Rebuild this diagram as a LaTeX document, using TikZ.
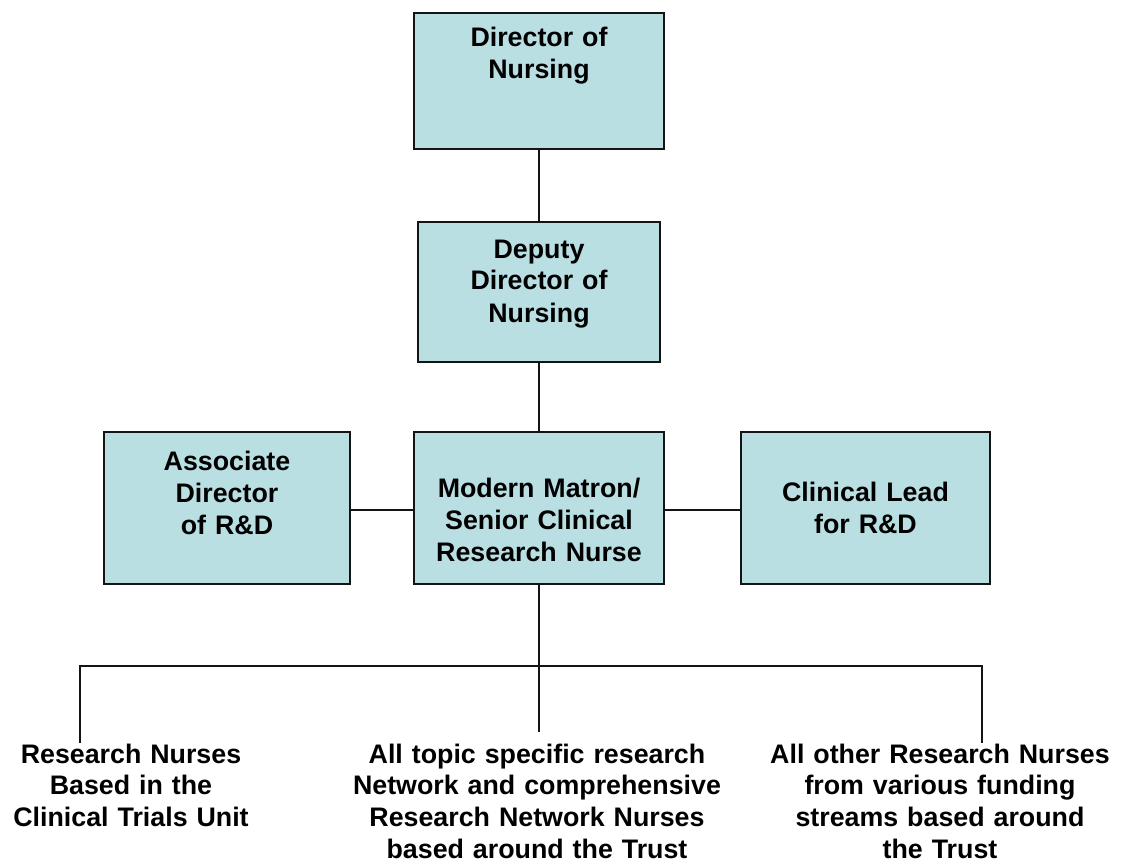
\documentclass[tikz,border=0pt]{standalone}
\usepackage{fontspec}
\setmainfont{Liberation Sans}
\definecolor{boxblue}{RGB}{185,223,227}
\definecolor{edge}{RGB}{20,20,20}
\begin{document}
\begin{tikzpicture}[x=1pt,y=-1pt,
  orgbox/.style={draw=edge,line width=2pt,fill=boxblue,inner sep=0pt,align=center,
    font=\fontsize{26.8}{32}\selectfont\bfseries},
  bottomtext/.style={inner sep=0pt,align=center,text width=380pt,anchor=base,
    font=\fontsize{26.8}{31.7}\selectfont\bfseries},
  conn/.style={draw=edge,line width=1.5pt},
  bar/.style={draw=edge,line width=2.2pt,line cap=rect}]
\useasboundingbox (0,0) rectangle (1122,864);

\node[orgbox,anchor=north west,text width=250pt,text height=34pt,text depth=102pt] (dir) at (413,12) {Director of\\Nursing};
\node[orgbox,anchor=north west,text width=242pt,text height=36pt,text depth=104pt] (dep) at (417,221) {Deputy\\Director of\\Nursing};
\node[orgbox,anchor=north west,text width=246pt,text height=38pt,text depth=114pt] (assoc) at (103,431) {Associate\\Director\\of R\&D};
\node[orgbox,anchor=north west,text width=250pt,text height=65pt,text depth=87pt] (matron) at (413,431) {Modern Matron/\\Senior Clinical\\Research Nurse};
\node[orgbox,anchor=north west,text width=249pt,text height=69pt,text depth=83pt] (clin) at (740,431) {Clinical Lead\\for R\&D};

\node[bottomtext] (t1) at (131,763) {Research Nurses\\Based in the\\Clinical Trials Unit};
\node[bottomtext] (t2) at (537,763) {All topic specific research\\Network and comprehensive\\Research Network Nurses\\based around the Trust};
\node[bottomtext] (t3) at (940,763) {All other Research Nurses\\from various funding\\streams based around\\the Trust};

\coordinate (barL) at (80,666);
\coordinate (barR) at (982,666);
\coordinate (midend) at (matron.south |- 0,732);
\coordinate (leftend) at (80,743);
\coordinate (rightend) at (982,743);

\draw[conn] (dir.south) -- (dep.north);
\draw[conn] (dep.south) -- (matron.north);
\draw[conn] ([yshift=-2pt]assoc.east) -- ([yshift=-2pt]matron.west);
\draw[conn] ([yshift=-2pt]matron.east) -- ([yshift=-2pt]clin.west);
\draw[conn] (matron.south) -- (midend);
\draw[bar] (barL) -- (barR);
\draw[conn] (barL) -- (leftend);
\draw[conn] (barR) -- (rightend);
\end{tikzpicture}
\end{document}
